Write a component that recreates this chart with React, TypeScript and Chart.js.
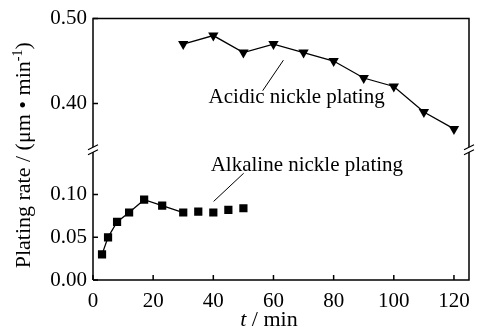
import React, { useEffect, useRef } from 'react';
import { Chart, registerables } from 'chart.js';

Chart.register(...registerables);

// ---- data ----
const timeAlkaline = [3, 5, 8, 12, 17, 23, 30, 35, 40, 45, 50];
const rateAlkaline = [0.030, 0.050, 0.068, 0.079, 0.094, 0.087, 0.079, 0.080, 0.079, 0.082, 0.084];
const connectedAlkalineCount = 7; // first points joined by a line
const timeAcidic = [30, 40, 50, 60, 70, 80, 90, 100, 110, 120];
const rateAcidic = [0.47, 0.48, 0.46, 0.47, 0.46, 0.45, 0.43, 0.42, 0.39, 0.37];

const xTicks = [0, 20, 40, 60, 80, 100, 120];
const yLowTicks = [0, 0.05, 0.10];
const yHighTicks = [0.40, 0.50];

const labelAcidic = 'Acidic nickle plating';
const labelAlkaline = 'Alkaline nickle plating';
const yTitleMain = 'Plating rate / (\u03bcm \u2022 min';
const yTitleSup = '-1';
const yTitleEnd = ')';
const xTitleVar = 't';
const xTitleRest = ' / min';

const FONT = '"Liberation Serif", "Times New Roman", serif';

const annotationPlugin = {
  id: 'annotations',
  afterDraw(chart: any) {
    const ctx = chart.ctx as CanvasRenderingContext2D;
    const { left, right, top, bottom } = chart.chartArea;
    const sx = chart.scales.x;
    const yl = chart.scales.y;
    const yh = chart.scales.y2;
    const yb = yh.bottom;

    ctx.save();
    ctx.strokeStyle = '#000';
    ctx.fillStyle = '#000';
    ctx.lineWidth = 1.5;
    ctx.lineCap = 'butt';

    // frame
    ctx.beginPath();
    ctx.moveTo(left, bottom);
    ctx.lineTo(left, top);
    ctx.lineTo(right, top);
    ctx.lineTo(right, bottom);
    ctx.lineTo(left, bottom);
    ctx.stroke();

    // breaks
    for (const x0 of [left, right]) {
      ctx.save();
      ctx.fillStyle = '#fff';
      ctx.beginPath();
      ctx.moveTo(x0 - 5, yb + 0.5);
      ctx.lineTo(x0 + 5, yb - 4.5);
      ctx.lineTo(x0 + 5, yb + 0.5);
      ctx.lineTo(x0 - 5, yb + 5.5);
      ctx.closePath();
      ctx.fill();
      ctx.restore();
      ctx.lineWidth = 1.2;
      ctx.beginPath();
      ctx.moveTo(x0 - 5, yb + 0.5);
      ctx.lineTo(x0 + 5, yb - 4.5);
      ctx.moveTo(x0 - 5, yb + 5.5);
      ctx.lineTo(x0 + 5, yb + 0.5);
      ctx.stroke();
    }

    // ticks (inward)
    ctx.lineWidth = 1.5;
    ctx.beginPath();
    for (const v of xTicks) {
      const px = sx.getPixelForValue(v);
      ctx.moveTo(px, bottom);
      ctx.lineTo(px, bottom - 5);
    }
    for (const v of yLowTicks) {
      const py = yl.getPixelForValue(v);
      ctx.moveTo(left, py);
      ctx.lineTo(left + 5, py);
    }
    for (const v of yHighTicks) {
      const py = yh.getPixelForValue(v);
      ctx.moveTo(left, py);
      ctx.lineTo(left + 5, py);
    }
    ctx.stroke();

    // annotations
    ctx.font = `21px ${FONT}`;
    ctx.textAlign = 'center';
    ctx.textBaseline = 'alphabetic';
    ctx.fillText(labelAcidic, sx.getPixelForValue(67.7), yh.getPixelForValue(0.400));
    ctx.fillText(labelAlkaline, sx.getPixelForValue(71.1), yl.getPixelForValue(0.128));

    ctx.lineWidth = 1;
    ctx.beginPath();
    ctx.moveTo(sx.getPixelForValue(56.4), yh.getPixelForValue(0.415));
    ctx.lineTo(sx.getPixelForValue(63.3), yh.getPixelForValue(0.451));
    ctx.moveTo(sx.getPixelForValue(40.1), yl.getPixelForValue(0.092));
    ctx.lineTo(sx.getPixelForValue(50.1), yl.getPixelForValue(0.125));
    ctx.stroke();

    // x title
    ctx.textAlign = 'left';
    const fItal = `italic 22px ${FONT}`;
    const fNorm = `22px ${FONT}`;
    ctx.font = fItal;
    const wt = ctx.measureText(xTitleVar).width;
    ctx.font = fNorm;
    const wr = ctx.measureText(xTitleRest).width;
    const cx = sx.getPixelForValue(58.5);
    const x0 = cx - (wt + wr) / 2;
    ctx.font = fItal;
    ctx.fillText(xTitleVar, x0, 326);
    ctx.font = fNorm;
    ctx.fillText(xTitleRest, x0 + wt, 326);

    // y title (rotated)
    const fSup = `14px ${FONT}`;
    ctx.font = fNorm;
    const w1 = ctx.measureText(yTitleMain).width;
    const w3 = ctx.measureText(yTitleEnd).width;
    ctx.font = fSup;
    const w2 = ctx.measureText(yTitleSup).width;
    const total = w1 + w2 + w3;
    ctx.translate(30, (top + bottom) / 2 + 6);
    ctx.rotate(-Math.PI / 2);
    let tx = -total / 2;
    ctx.font = fNorm;
    ctx.fillText(yTitleMain, tx, 0);
    tx += w1;
    ctx.font = fSup;
    ctx.fillText(yTitleSup, tx, -8);
    tx += w2;
    ctx.font = fNorm;
    ctx.fillText(yTitleEnd, tx, 0);

    ctx.restore();
  },
};

export default function App() {
  const ref = useRef<HTMLCanvasElement>(null);

  useEffect(() => {
    if (!ref.current) return;
    Chart.defaults.font.family = FONT;
    Chart.defaults.color = '#000';

    const alkalineData = timeAlkaline.map((t, i) => ({ x: t, y: rateAlkaline[i] }));
    const acidicData = timeAcidic.map((t, i) => ({ x: t, y: rateAcidic[i] }));

    const chart = new Chart(ref.current, {
      type: 'line',
      data: {
        datasets: [
          {
            label: labelAlkaline,
            data: alkalineData,
            yAxisID: 'y',
            borderColor: '#000',
            backgroundColor: '#000',
            borderWidth: 1.3,
            pointStyle: 'rect',
            pointRadius: 5.8,
            pointBorderWidth: 0,
            pointBackgroundColor: '#000',
            segment: {
              borderColor: (c: any) => (c.p1DataIndex < connectedAlkalineCount ? '#000' : 'rgba(0,0,0,0)'),
            },
          },
          {
            label: labelAcidic,
            data: acidicData,
            yAxisID: 'y2',
            borderColor: '#000',
            backgroundColor: '#000',
            borderWidth: 1.3,
            pointStyle: 'triangle',
            pointRotation: 180,
            pointRadius: 6,
            pointBorderWidth: 0,
            pointBackgroundColor: '#000',
          },
        ],
      },
      options: {
        responsive: false,
        animation: false,
        layout: { padding: { left: 0, right: 11, top: 15, bottom: 0 } },
        plugins: { legend: { display: false }, tooltip: { enabled: false }, title: { display: false } },
        scales: {
          x: {
            type: 'linear',
            position: 'bottom',
            min: 0,
            max: 125,
            grid: { display: false, drawTicks: false },
            border: { display: false },
            ticks: { font: { size: 21 }, color: '#000', padding: 9, maxRotation: 0, autoSkip: false },
            afterBuildTicks: (s: any) => { s.ticks = xTicks.map((v) => ({ value: v })); },
            afterFit: (s: any) => { s.height = 52; },
          },
          y: {
            type: 'linear',
            position: 'left',
            stack: 'rate',
            stackWeight: 1,
            min: 0,
            max: 0.153,
            grid: { display: false, drawTicks: false },
            border: { display: false },
            ticks: { font: { size: 21 }, color: '#000', padding: 6, callback: (v: any) => Number(v).toFixed(2) },
            afterBuildTicks: (s: any) => { s.ticks = yLowTicks.map((v) => ({ value: v })); },
            afterFit: (s: any) => { s.width = 93; },
          },
          y2: {
            type: 'linear',
            position: 'left',
            stack: 'rate',
            stackWeight: 1,
            min: 0.346,
            max: 0.5,
            grid: { display: false, drawTicks: false },
            border: { display: false },
            ticks: { font: { size: 21 }, color: '#000', padding: 6, callback: (v: any) => Number(v).toFixed(2) },
            afterBuildTicks: (s: any) => { s.ticks = yHighTicks.map((v) => ({ value: v })); },
            afterFit: (s: any) => { s.width = 93; },
          },
        },
      },
      plugins: [annotationPlugin],
    } as any);

    return () => chart.destroy();
  }, []);

  return (
    <div style={{ position: 'fixed', left: 0, top: 0, width: 480, height: 332, background: '#fff' }}>
      <canvas ref={ref} width={480} height={332} style={{ display: 'block', width: 480, height: 332 }} />
    </div>
  );
}
